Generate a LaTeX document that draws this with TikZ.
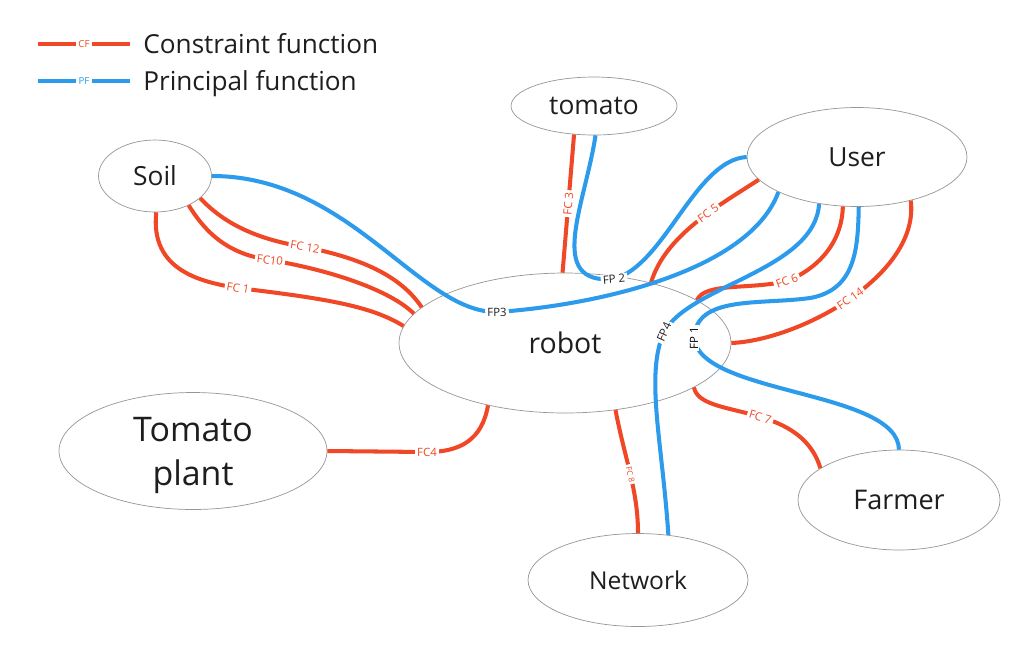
\documentclass[tikz,border=0pt]{standalone}
\usepackage{fontspec}
\setmainfont{Open Sans}
\usetikzlibrary{shapes.geometric,positioning}
\definecolor{cfred}{RGB}{240,72,38}
\definecolor{pfblue}{RGB}{44,155,235}
\definecolor{rim}{RGB}{150,150,150}
\definecolor{ink}{RGB}{30,30,30}

\begin{document}
\begin{tikzpicture}[x=0.02cm,y=-0.02cm,
  ent/.style={ellipse,draw=rim,line width=0.4pt,fill=white,inner sep=0pt,
    text=ink,font=\fontsize{15}{17}\selectfont},
  cf/.style={draw=cfred,line width=2.3pt},
  pf/.style={draw=pfblue,line width=2.3pt},
  lbl/.style={fill=white,inner xsep=1.2pt,inner ysep=0.6pt,font=\fontsize{6.5}{7}\selectfont},
  cflbl/.style={lbl,text=cfred,sloped},
  pflbl/.style={lbl,text=ink,sloped},
  legtxt/.style={anchor=base west,inner sep=0pt,text=ink,font=\fontsize{14.9}{17}\selectfont}]
\useasboundingbox (0,0) rectangle (1033,650);

% legend
\coordinate (cfa) at (38,44);
\coordinate (cfb) at (130,44);
\draw[cf] (cfa) -- node[lbl,text=cfred,font=\fontsize{5.5}{6}\selectfont] {CF} (cfb);
\node[legtxt] (cftxt) at (143,53) {Constraint function};
\coordinate (pfa) at (38,81);
\coordinate (pfb) at (130,81);
\draw[pf] (pfa) -- node[lbl,text=pfblue,font=\fontsize{5.5}{6}\selectfont] {PF} (pfb);
\node[legtxt] (pftxt) at (143,90) {Principal function};

% entities
\node[ent,minimum width=3.32cm,minimum height=1.16cm] (tomato) at (594,106) {tomato};
\node[ent,minimum width=4.4cm,minimum height=1.98cm] (user) at (857,157) {User};
\node[ent,minimum width=2.26cm,minimum height=1.44cm] (soil) at (155,176) {Soil};
\node[ent,minimum width=6.64cm,minimum height=2.8cm,font=\fontsize{16.2}{18}\selectfont] (robot) at (565,343) {robot};
\node[ent,minimum width=5.36cm,minimum height=2.34cm,align=center,text depth=0pt,
  font=\fontsize{19.3}{25}\selectfont] (plant) at (193,451) {Tomato\\plant};
\node[ent,minimum width=4.04cm,minimum height=2.0cm,font=\fontsize{15.4}{17}\selectfont] (farmer) at (899,500) {Farmer};
\node[ent,minimum width=4.4cm,minimum height=1.86cm,font=\fontsize{14}{16}\selectfont] (network) at (638,580) {Network};

% constraint functions
\draw[cf] (soil.-88) .. controls (150,270) and (200,282) .. node[cflbl,pos=1] {FC 1} (238,288)
  .. controls (320,298) and (370,305) .. (robot.174);
\draw[cf] (soil.-41) .. controls (210,240) and (235,255) .. node[cflbl,pos=1] {FC10} (270,260)
  .. controls (330,270) and (390,290) .. (robot.169);
\draw[cf] (soil.-26) .. controls (225,225) and (260,240) .. node[cflbl,pos=1] {FC 12} (305,247)
  .. controls (360,258) and (400,275) .. (robot.166);
\draw[cf] (tomato.235) -- node[cflbl] {FC 3} (robot.92);
\draw[cf] (robot.219) .. controls (482,440) and (460,452) .. node[cflbl,pos=1] {FC4} (427,452)
  -- (plant.east);
\draw[cf] (user.193) .. controls (720,205) and (665,235) .. node[cflbl,pos=0.4] {FC 5} (robot.35);
\draw[cf] (user.254) .. controls (842,245) and (815,270) .. node[cflbl,pos=1] {FC 6} (787,281)
  .. controls (750,290) and (705,282) .. (robot.18);
\draw[cf] (robot.-19) .. controls (700,420) and (800,400) .. node[cflbl,pos=0.55] {FC 7} (farmer.158);
\draw[cf] (robot.-53) .. controls (625,460) and (638,490) ..
  node[cflbl,font=\fontsize{4.5}{5}\selectfont] {FC 8} (network.north);
\draw[cf] (user.-39) .. controls (920,275) and (800,340) .. node[cflbl] {FC 14} (robot.east);

% principal functions
\draw[pf] (soil.east) .. controls (350,176) and (420,313) .. node[pflbl,pos=1] {FP3} (497,312)
  .. controls (600,305) and (750,270) .. (user.204);
\draw[pf] (tomato.-87) .. controls (585,205) and (545,285) .. node[pflbl,pos=1] {FP 2} (614,279)
  .. controls (665,265) and (695,160) .. (user.west);
\draw[pf] (network.56) .. controls (662,440) and (645,375) .. node[pflbl,pos=1] {FP4} (664,332)
  .. controls (690,285) and (815,270) .. (user.231);
\draw[pf] (farmer.north) .. controls (898,390) and (700,395) .. node[lbl,pos=1,rotate=90] {FP 1} (694,338)
  .. controls (696,295) and (760,305) .. (810,298)
  .. controls (855,290) and (858,250) .. (user.-88);
\end{tikzpicture}
\end{document}
